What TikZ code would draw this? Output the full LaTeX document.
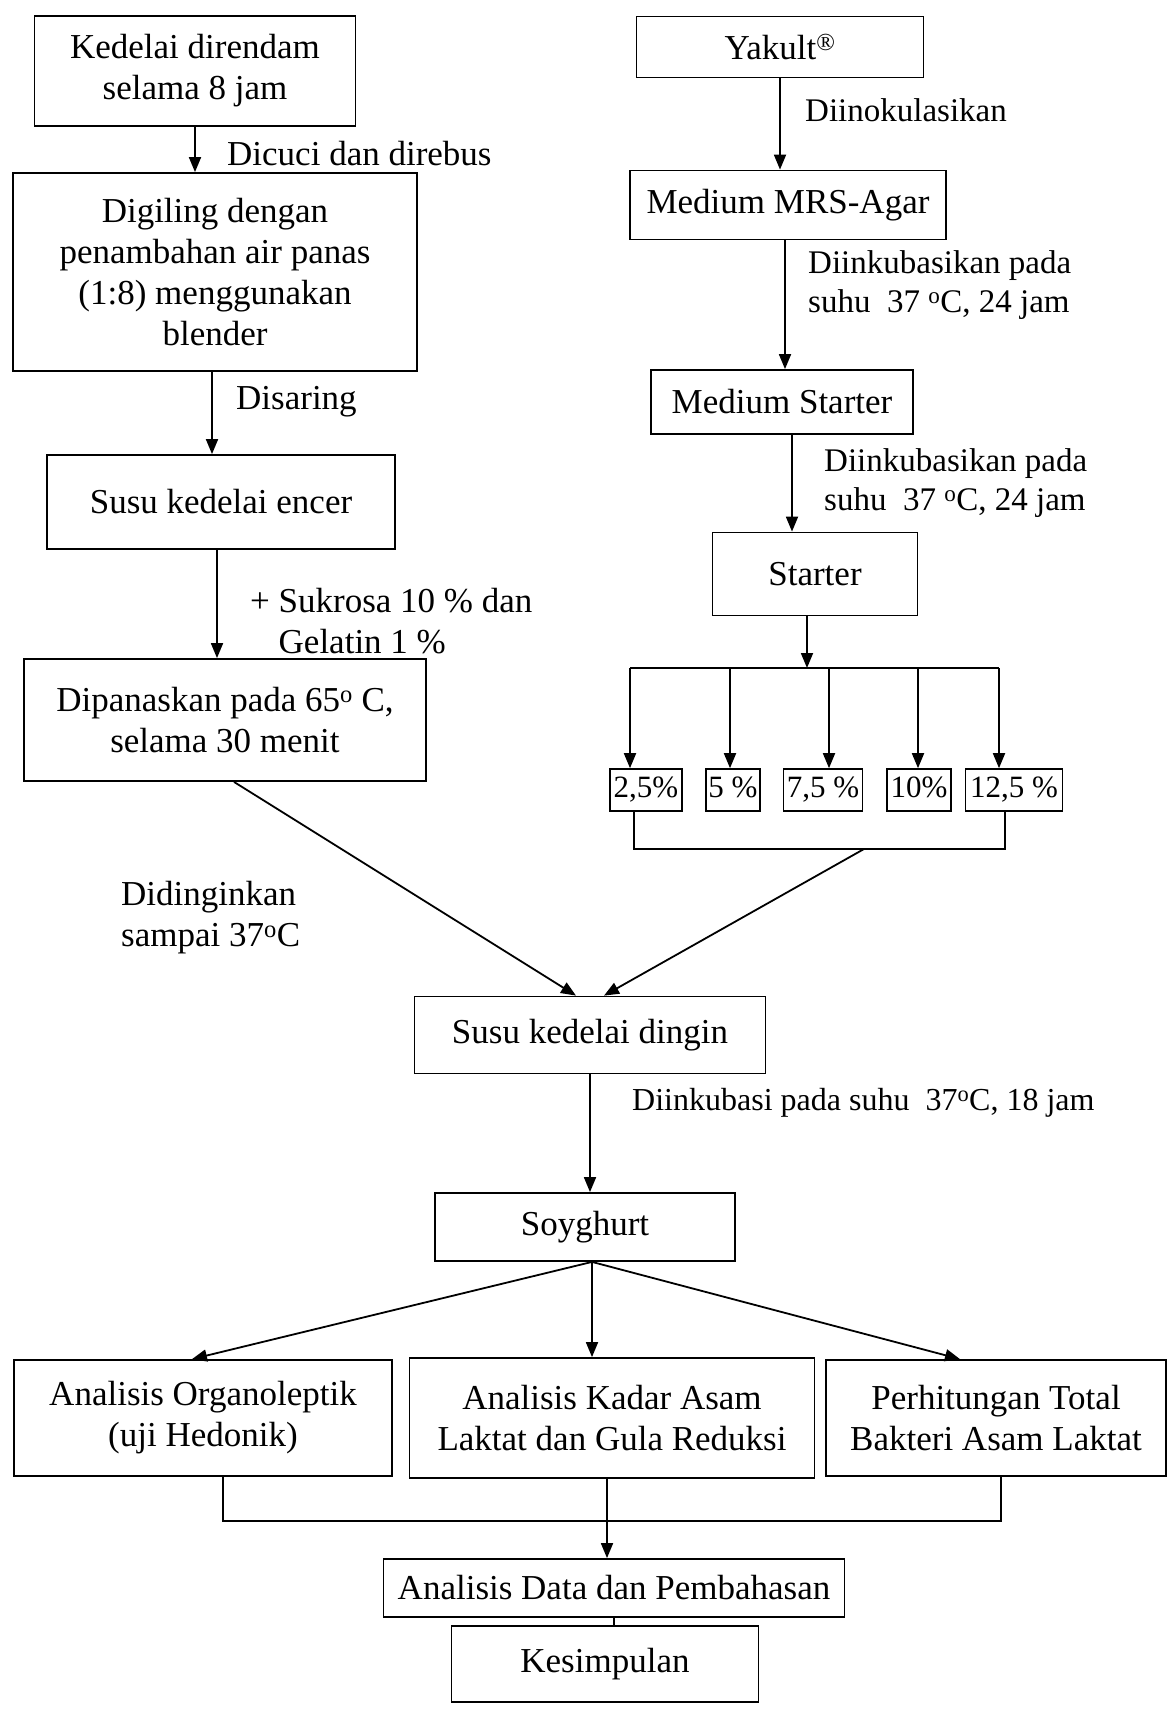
\documentclass[tikz,border=0pt]{standalone}
\usepackage{fontspec}
\setmainfont{Liberation Serif}
\usetikzlibrary{arrows.meta,calc}
\begin{document}
\begin{tikzpicture}[x=1pt,y=-1pt,
  every node/.style={font=\fontsize{35}{41}\selectfont},
  box/.style={draw,line width=1.8pt,align=center,inner sep=0pt},
  lbl/.style={anchor=west,align=left,inner sep=0pt},
  slbl/.style={lbl,font=\fontsize{33}{39}\selectfont},
  pbox/.style={draw,line width=1.6pt,inner sep=2pt,font=\fontsize{31}{36}\selectfont,minimum height=42pt,text height=22pt,text depth=7pt},
  arr/.style={line width=1.8pt,-{Triangle[length=15pt,width=12pt]}},
  ln/.style={line width=1.8pt}]
\useasboundingbox[fill=white] (0,0) rectangle (1170,1721);

% left column
\node[box,minimum width=321pt,minimum height=110pt] (kedelai) at (195,71) {Kedelai direndam\\selama 8 jam};
\node[box,minimum width=404pt,minimum height=198pt] (giling) at (215,272) {Digiling dengan\\penambahan air panas\\(1:8) menggunakan\\blender};
\node[box,minimum width=348pt,minimum height=94pt] (encer) at (221,502) {Susu kedelai encer};
\node[box,minimum width=402pt,minimum height=122pt] (panas) at (225,720) {Dipanaskan pada 65\textsuperscript{o} C,\\selama 30 menit};

\draw[arr] (kedelai.south) -- (kedelai.south |- giling.north);
\draw[arr] ([xshift=-3pt]giling.south) -- ([xshift=-3pt]giling.south |- encer.north);
\draw[arr] ([xshift=-4pt]encer.south) -- ([xshift=-4pt]encer.south |- panas.north);

\node[lbl] (l1) at (227,154) {Dicuci dan direbus};
\node[lbl] (l2) at (236,402) {Disaring};
\node[lbl] (l3) at (250,621) {+ Sukrosa 10 \% dan\\\phantom{+ }Gelatin 1 \%};
\node[lbl] (l4) at (121,918) {Didinginkan\\sampai 37\textsuperscript{o}C};

% right column
\node[box,minimum width=287pt,minimum height=61pt] (yakult) at (780,47) {Yakult\textsuperscript{®}};
\node[box,minimum width=316pt,minimum height=69pt] (mrs) at (788,205) {Medium MRS-Agar};
\node[box,minimum width=262pt,minimum height=64pt] (mstart) at (782,402) {Medium Starter};
\node[box,minimum width=205pt,minimum height=83pt] (start) at (815,574) {Starter};

\draw[arr] (yakult.south) -- (yakult.south |- mrs.north);
\draw[arr] ([xshift=-3pt]mrs.south) -- ([xshift=-3pt]mrs.south |- mstart.north);
\draw[arr] ([xshift=10pt]mstart.south) -- ([xshift=10pt]mstart.south |- start.north);

\node[slbl] (r1) at (805,110) {Diinokulasikan};
\node[slbl] (r2) at (808,285) {Diinkubasikan pada\\suhu\ \ 37 \textsuperscript{o}C, 24 jam};
\node[slbl] (r3) at (824,483) {Diinkubasikan pada\\suhu\ \ 37 \textsuperscript{o}C, 24 jam};

% percentages
\node[pbox,minimum width=72pt] (p1) at (646,790) {2,5\%};
\node[pbox,minimum width=54pt] (p2) at (733,790) {5 \%};
\node[pbox,minimum width=79pt] (p3) at (823,790) {7,5 \%};
\node[pbox,minimum width=64pt] (p4) at (919,790) {10\%};
\node[pbox,minimum width=97pt] (p5) at (1014,790) {12,5 \%};

\coordinate (bus) at (807,668);
\coordinate (d1) at ([xshift=-16pt]p1.north);
\coordinate (d2) at ([xshift=-3pt]p2.north);
\coordinate (d3) at ([xshift=6pt]p3.north);
\coordinate (d4) at ([xshift=-1pt]p4.north);
\coordinate (d5) at ([xshift=-15pt]p5.north);
\draw[arr] (bus |- start.south) -- (bus);
\draw[ln] (d1 |- bus) -- (d5 |- bus);
\foreach \d in {d1,d2,d3,d4,d5} \draw[arr] (\d |- bus) -- (\d);

\coordinate (lb) at (864,849);
\coordinate (q1) at ([xshift=-12pt]p1.south);
\coordinate (q5) at ([xshift=-9pt]p5.south);
\draw[ln] (q1) -- (q1 |- lb) -- (q5 |- lb) -- (q5);

% middle
\node[box,minimum width=351pt,minimum height=77pt] (dingin) at (590,1035) {Susu kedelai dingin};
\draw[arr] ([xshift=9pt]panas.south) -- ([xshift=-14pt]dingin.north);
\draw[arr] (lb) -- ([xshift=14pt]dingin.north);

\node[box,minimum width=300pt,minimum height=68pt] (soy) at (585,1227) {Soyghurt};
\draw[arr] (dingin.south) -- (dingin.south |- soy.north);
\node[lbl,font=\fontsize{32}{38}\selectfont] (m1) at (632,1103) {Diinkubasi pada suhu\ \ 37\textsuperscript{o}C, 18 jam};

% analyses
\node[box,minimum width=378pt,minimum height=116pt] (organo) at (203,1418) {Analisis Organoleptik\\(uji Hedonik)};
\node[box,minimum width=405pt,minimum height=120pt] (kadar) at (612,1418) {Analisis Kadar Asam\\Laktat dan Gula Reduksi};
\node[box,minimum width=340pt,minimum height=116pt] (perhit) at (996,1418) {Perhitungan Total\\Bakteri Asam Laktat};

\coordinate (s0) at ([xshift=7pt]soy.south);
\draw[arr] (s0) -- ([xshift=-11pt]organo.north);
\draw[arr] (s0) -- (s0 |- kadar.north);
\draw[arr] (s0) -- ([xshift=-36pt]perhit.north);

\node[box,minimum width=461pt,minimum height=58pt] (data) at (614,1588) {Analisis Data dan Pembahasan};
\node[box,minimum width=307pt,minimum height=76pt] (kes) at (605,1664) {Kesimpulan};

\coordinate (lb2) at (607,1521);
\coordinate (o1) at ([xshift=20pt]organo.south);
\coordinate (o3) at ([xshift=5pt]perhit.south);
\draw[ln] (o1) -- (o1 |- lb2) -- (o3 |- lb2) -- (o3);
\draw[arr] ([xshift=-5pt]kadar.south) -- ([xshift=-5pt]kadar.south |- data.north);
\draw[ln] (data.south) -- (data.south |- kes.north);
\end{tikzpicture}
\end{document}
